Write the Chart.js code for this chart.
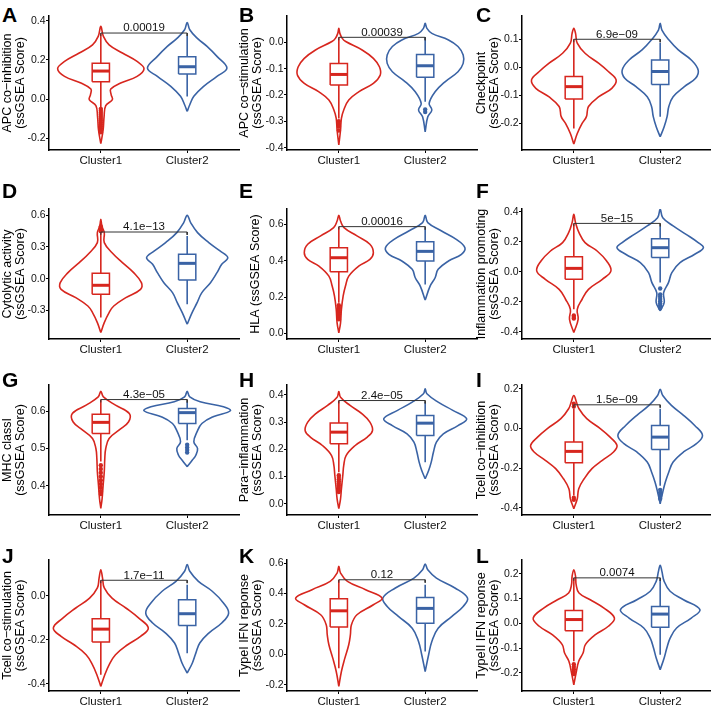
<!doctype html>
<html lang="en">
<head>
<meta charset="UTF-8">
<title>ssGSEA scores by cluster</title>
<script src="https://cdn.jsdelivr.net/npm/chart.js@4.4.0/dist/chart.umd.min.js"></script>
<style>
	body { margin: 0; width: 711px; height: 706px; overflow: hidden; background: #fff; position: relative; font-family: "Liberation Sans", Arial, sans-serif; }
	canvas { position: absolute; }
	.tag { position: absolute; font-weight: bold; font-size: 21px; line-height: 1; color: #000; }
</style>
</head>
<body>
<script>
// ---- data ----
const clusters = ['Cluster1', 'Cluster2'];
const letters = ['A', 'B', 'C', 'D', 'E', 'F', 'G', 'H', 'I', 'J', 'K', 'L'];
const yTitles = [
	['APC co\u2212inhibition', '(ssGSEA Score)'],
	['APC co\u2212stimulation', '(ssGSEA Score)'],
	['Checkpoint', '(ssGSEA Score)'],
	['Cytolytic activity', '(ssGSEA Score)'],
	['HLA (ssGSEA Score)'],
	['Inflammation promoting', '(ssGSEA Score)'],
	['MHC classI', '(ssGSEA Score)'],
	['Para\u2212inflammation', '(ssGSEA Score)'],
	['Tcell co\u2212inhibition', '(ssGSEA Score)'],
	['Tcell co\u2212stimulation', '(ssGSEA Score)'],
	['TypeI IFN reponse', '(ssGSEA Score)'],
	['TypeII IFN reponse', '(ssGSEA Score)'],
];
const pValues = ['0.00019', '0.00039', '6.9e\u221209', '4.1e\u221213', '0.00016', '5e\u221215',
	'4.3e\u221205', '2.4e\u221205', '1.5e\u221209', '1.7e\u221211', '0.12', '0.0074'];
const bracketY = [0.337, 0.019, 0.1, 0.442, 0.587, 0.324, 0.631, 0.379, 0.119, 0.07, 0.49, 0.183];

const yMin = [-0.26, -0.409, -0.295, -0.572, -0.031, -0.447, 0.322, -0.041, -0.437, -0.433, -0.241, -0.273];
const yMax = [0.424, 0.1, 0.183, 0.66, 0.684, 0.42, 0.670, 0.436, 0.219, 0.162, 0.62, 0.255];
const yTicks = [
	[-0.2, 0, 0.2, 0.4], [-0.4, -0.3, -0.2, -0.1, 0], [-0.2, -0.1, 0, 0.1], [-0.3, 0, 0.3, 0.6],
	[0, 0.2, 0.4, 0.6], [-0.4, -0.2, 0, 0.2, 0.4], [0.4, 0.5, 0.6], [0, 0.1, 0.2, 0.3, 0.4],
	[-0.4, -0.2, 0, 0.2], [-0.4, -0.2, 0], [-0.2, 0, 0.2, 0.4, 0.6], [-0.2, -0.1, 0, 0.1, 0.2],
];

// box stats: [lower whisker, q1, median, q3, upper whisker]
const box1 = [
	[-0.04, 0.089, 0.143, 0.183, 0.336], [-0.289, -0.162, -0.122, -0.08, 0.019], [-0.218, -0.113, -0.069, -0.033, 0.1],
	[-0.369, -0.148, -0.063, 0.051, 0.436], [0.168, 0.339, 0.416, 0.471, 0.587], [-0.249, -0.049, 0.024, 0.102, 0.324],
	[0.465, 0.54, 0.57, 0.592, 0.631], [0.116, 0.22, 0.263, 0.297, 0.379], [-0.338, -0.173, -0.116, -0.069, 0.1],
	[-0.359, -0.211, -0.152, -0.105, 0.07], [-0.091, 0.179, 0.286, 0.365, 0.49], [-0.153, -0.03, 0.015, 0.051, 0.183],
];
const box2 = [
	[0.013, 0.128, 0.165, 0.216, 0.323], [-0.226, -0.133, -0.089, -0.046, 0.019], [-0.176, -0.061, -0.015, 0.026, 0.088],
	[-0.243, -0.013, 0.145, 0.231, 0.404], [0.269, 0.398, 0.451, 0.504, 0.576], [-0.071, 0.096, 0.162, 0.222, 0.307],
	[0.522, 0.567, 0.596, 0.607, 0.625], [0.153, 0.251, 0.296, 0.324, 0.373], [-0.29, -0.106, -0.044, 0.015, 0.099],
	[-0.261, -0.135, -0.082, -0.018, 0.05], [0.019, 0.205, 0.302, 0.374, 0.457], [-0.127, -0.016, 0.037, 0.068, 0.175],
];
const outliers1 = [
	[-0.05, -0.06, -0.07, -0.08, -0.09, -0.1, -0.11, -0.12, -0.13, -0.14, -0.15, -0.16, -0.17], [-0.3, -0.31, -0.32, -0.335], [],
	[0.45, 0.46, 0.47, 0.48, 0.495], [0.155, 0.145, 0.135, 0.125, 0.115, 0.105, 0.095, 0.085, 0.078], [-0.29, -0.3, -0.31],
	[0.455, 0.445, 0.435, 0.425, 0.415, 0.405, 0.395, 0.385, 0.378], [0.105, 0.098, 0.09, 0.082, 0.074, 0.066, 0.058, 0.05, 0.043], [0.11, 0.125, -0.35, -0.36],
	[], [], [-0.165, -0.175, -0.185, -0.195, -0.205],
];
const outliers2 = [
	[], [-0.255, -0.265], [], [], [], [-0.11, -0.15, -0.165, -0.18, -0.195, -0.21, -0.225, -0.24],
	[0.51, 0.503, 0.496, 0.489], [], [-0.31, -0.325, -0.34, -0.355], [], [], [],
];

// violin outlines, top to bottom: [score, half width in category units]
const violin1 = [
	[[0.371, 0], [0.32, 0.03], [0.277, 0.096], [0.235, 0.25], [0.192, 0.42], [0.155, 0.5], [0.116, 0.42], [0.082, 0.23], [0.051, 0.115], [0.022, 0.12], [-0.003, 0.134], [-0.034, 0.057], [-0.088, 0.038], [-0.156, 0.027], [-0.228, 0]],
	[[0.053, 0], [0.034, 0.012], [0.015, 0.04], [0.003, 0.08], [-0.029, 0.27], [-0.061, 0.40], [-0.093, 0.47], [-0.124, 0.48], [-0.156, 0.40], [-0.188, 0.23], [-0.219, 0.115], [-0.257, 0.057], [-0.289, 0.03], [-0.333, 0.02], [-0.39, 0]],
	[[0.139, 0], [0.121, 0.02], [0.086, 0.04], [0.05, 0.13], [0.014, 0.29], [-0.015, 0.40], [-0.045, 0.49], [-0.075, 0.44], [-0.105, 0.29], [-0.14, 0.17], [-0.176, 0.146], [-0.2, 0.096], [-0.236, 0.04], [-0.274, 0]],
	[[0.562, 0], [0.499, 0.012], [0.436, 0.04], [0.341, 0.04], [0.246, 0.13], [0.152, 0.25], [0.057, 0.38], [-0.038, 0.47], [-0.101, 0.46], [-0.18, 0.29], [-0.259, 0.15], [-0.322, 0.096], [-0.417, 0.04], [-0.511, 0]],
	[[0.65, 0], [0.618, 0.02], [0.582, 0.06], [0.536, 0.21], [0.49, 0.36], [0.444, 0.40], [0.407, 0.36], [0.37, 0.23], [0.315, 0.115], [0.26, 0.077], [0.205, 0.05], [0.132, 0.03], [0.058, 0.02], [0.003, 0]],
	[[0.384, 0], [0.329, 0.02], [0.262, 0.06], [0.196, 0.13], [0.14, 0.27], [0.073, 0.38], [0.007, 0.43], [-0.049, 0.33], [-0.116, 0.17], [-0.182, 0.096], [-0.249, 0.04], [-0.316, 0.05], [-0.404, 0]],
	[[0.653, 0], [0.638, 0.03], [0.616, 0.17], [0.594, 0.33], [0.571, 0.32], [0.549, 0.21], [0.527, 0.096], [0.5, 0.057], [0.473, 0.046], [0.438, 0.04], [0.402, 0.027], [0.366, 0.015], [0.34, 0]],
	[[0.412, 0], [0.391, 0.02], [0.361, 0.13], [0.33, 0.27], [0.3, 0.36], [0.269, 0.39], [0.245, 0.33], [0.214, 0.19], [0.177, 0.084], [0.141, 0.057], [0.104, 0.046], [0.055, 0.03], [0.018, 0.02], [-0.018, 0]],
	[[0.166, 0], [0.133, 0.03], [0.099, 0.06], [0.049, 0.15], [-0.002, 0.31], [-0.044, 0.42], [-0.086, 0.5], [-0.119, 0.46], [-0.161, 0.33], [-0.203, 0.21], [-0.254, 0.12], [-0.304, 0.057], [-0.355, 0.04], [-0.405, 0]],
	[[0.118, 0], [0.08, 0.02], [0.035, 0.04], [-0.011, 0.13], [-0.056, 0.29], [-0.102, 0.44], [-0.147, 0.55], [-0.185, 0.46], [-0.223, 0.31], [-0.268, 0.17], [-0.314, 0.096], [-0.359, 0.046], [-0.412, 0]],
	[[0.578, 0], [0.534, 0.02], [0.479, 0.1], [0.425, 0.31], [0.37, 0.5], [0.326, 0.4], [0.26, 0.21], [0.194, 0.146], [0.129, 0.134], [0.063, 0.115], [-0.025, 0.07], [-0.113, 0.03], [-0.211, 0]],
	[[0.216, 0], [0.189, 0.02], [0.156, 0.027], [0.122, 0.06], [0.095, 0.19], [0.062, 0.345], [0.021, 0.47], [-0.012, 0.4], [-0.046, 0.25], [-0.086, 0.134], [-0.12, 0.107], [-0.153, 0.057], [-0.194, 0.03], [-0.248, 0]],
];
const violin2 = [
	[[0.391, 0], [0.354, 0.03], [0.311, 0.115], [0.269, 0.23], [0.218, 0.345], [0.158, 0.46], [0.116, 0.345], [0.065, 0.19], [0.014, 0.077], [-0.029, 0.03], [-0.063, 0]],
	[[0.072, 0], [0.053, 0.02], [0.034, 0.077], [0.009, 0.27], [-0.016, 0.38], [-0.048, 0.44], [-0.08, 0.44], [-0.112, 0.38], [-0.15, 0.23], [-0.188, 0.115], [-0.232, 0.046], [-0.257, 0.077], [-0.283, 0.03], [-0.34, 0]],
	[[0.157, 0], [0.133, 0.02], [0.098, 0.1], [0.062, 0.21], [0.026, 0.36], [-0.01, 0.44], [-0.039, 0.41], [-0.069, 0.28], [-0.105, 0.15], [-0.14, 0.1], [-0.176, 0.08], [-0.212, 0.046], [-0.248, 0]],
	[[0.6, 0], [0.531, 0.04], [0.436, 0.12], [0.341, 0.25], [0.262, 0.38], [0.199, 0.47], [0.136, 0.4], [0.057, 0.345], [-0.038, 0.27], [-0.133, 0.17], [-0.227, 0.115], [-0.322, 0.057], [-0.432, 0]],
	[[0.65, 0], [0.609, 0.03], [0.563, 0.19], [0.517, 0.36], [0.471, 0.46], [0.435, 0.42], [0.398, 0.27], [0.352, 0.15], [0.306, 0.115], [0.26, 0.057], [0.183, 0]],
	[[0.418, 0], [0.362, 0.03], [0.307, 0.15], [0.251, 0.3], [0.196, 0.44], [0.162, 0.5], [0.118, 0.4], [0.062, 0.23], [-0.004, 0.135], [-0.071, 0.096], [-0.138, 0.04], [-0.204, 0.046], [-0.26, 0]],
	[[0.653, 0], [0.638, 0.03], [0.625, 0.15], [0.612, 0.42], [0.601, 0.5], [0.585, 0.3], [0.567, 0.17], [0.545, 0.115], [0.518, 0.077], [0.5, 0.12], [0.482, 0.1], [0.469, 0.06], [0.451, 0]],
	[[0.422, 0], [0.404, 0.02], [0.373, 0.15], [0.343, 0.32], [0.312, 0.48], [0.287, 0.38], [0.257, 0.21], [0.226, 0.13], [0.19, 0.096], [0.153, 0.07], [0.122, 0.04], [0.092, 0]],
	[[0.197, 0], [0.166, 0.03], [0.116, 0.13], [0.066, 0.27], [0.015, 0.4], [-0.035, 0.49], [-0.077, 0.42], [-0.119, 0.27], [-0.17, 0.15], [-0.22, 0.1], [-0.271, 0.06], [-0.321, 0.03], [-0.38, 0]],
	[[0.141, 0], [0.111, 0.03], [0.065, 0.13], [0.02, 0.29], [-0.033, 0.42], [-0.079, 0.48], [-0.124, 0.4], [-0.17, 0.25], [-0.215, 0.146], [-0.261, 0.1], [-0.306, 0.06], [-0.352, 0]],
	[[0.593, 0], [0.556, 0.03], [0.501, 0.13], [0.436, 0.345], [0.37, 0.49], [0.315, 0.44], [0.249, 0.31], [0.172, 0.15], [0.085, 0.077], [-0.003, 0.04], [-0.113, 0]],
	[[0.234, 0], [0.209, 0.02], [0.169, 0.046], [0.129, 0.115], [0.095, 0.27], [0.055, 0.46], [0.021, 0.36], [-0.019, 0.19], [-0.06, 0.115], [-0.1, 0.077], [-0.14, 0.046], [-0.187, 0]],
];

// ---- layout / style ----
const RED = '#D7261E';
const BLUE = '#3A63A5';
const W = 245, H = 190;
const colLeft = [0, 237, 474];
const rowTop = [0, 176, 352, 528];
const plotLeft = [49, 50, 48];
const plotTop = [16, 33, 33, 32];
const plotBottom = [150, 163, 163, 163];
const plotW = 190;
const letterTop = [7, 183, 372, 548];
const BOX_HALF = 0.1;
const sans = '"Liberation Sans", Arial, sans-serif';

function fmt(v) {
	return v.toFixed(1);
}

function outline(profile, c) {
	const right = profile.slice().reverse().map(([v, w]) => ({ x: c + w, y: v }));
	const left = profile.map(([v, w]) => ({ x: c - w, y: v }));
	return right.concat(left.slice(1));
}

function line(data, color, width, tension) {
	return { data, showLine: true, borderColor: color, borderWidth: width, pointRadius: 0, pointHoverRadius: 0, tension: tension || 0, fill: false };
}

function groupSets(c, stats, outs, profile, color) {
	const [lo, q1, med, q3, hi] = stats;
	return [
		{ data: outs.map(v => ({ x: c, y: v })), showLine: false, pointRadius: 2.2, pointBorderWidth: 0, pointBackgroundColor: color },
		line([{ x: c - BOX_HALF, y: med }, { x: c + BOX_HALF, y: med }], color, 3),
		line([{ x: c - BOX_HALF, y: q1 }, { x: c + BOX_HALF, y: q1 }, { x: c + BOX_HALF, y: q3 }, { x: c - BOX_HALF, y: q3 }, { x: c - BOX_HALF, y: q1 }], color, 1.5),
		line([{ x: c, y: q3 }, { x: c, y: hi }], color, 1.6),
		line([{ x: c, y: q1 }, { x: c, y: lo }], color, 1.6),
		line(outline(profile, c), color, 1.6, 0.4),
	];
}

const pLabel = {
	id: 'pLabel',
	afterDatasetsDraw(chart, args, opts) {
		const { ctx, scales: { x, y } } = chart;
		ctx.save();
		ctx.font = '11.5px ' + sans;
		ctx.fillStyle = '#111';
		ctx.textAlign = 'center';
		ctx.textBaseline = 'bottom';
		ctx.fillText(pValues[opts.idx], x.getPixelForValue(1.5), y.getPixelForValue(bracketY[opts.idx]) + 1);
		ctx.restore();
	}
};

letters.forEach((letter, i) => {
	const row = Math.floor(i / 3), col = i % 3;

	const tag = document.createElement('div');
	tag.className = 'tag';
	tag.textContent = letter;
	tag.style.left = (colLeft[col] + 2) + 'px';
	tag.style.top = (letterTop[row] - 3) + 'px';
	document.body.appendChild(tag);

	const canvas = document.createElement('canvas');
	canvas.width = W;
	canvas.height = H;
	canvas.style.left = colLeft[col] + 'px';
	canvas.style.top = rowTop[row] + 'px';
	document.body.appendChild(canvas);

	const tickDrop = (yMax[i] - yMin[i]) * 0.022;
	const bracket = line([
		{ x: 1, y: bracketY[i] - tickDrop }, { x: 1, y: bracketY[i] },
		{ x: 2, y: bracketY[i] }, { x: 2, y: bracketY[i] - tickDrop }], '#333', 1);

	const datasets = [bracket]
		.concat(groupSets(1, box1[i], outliers1[i], violin1[i], RED))
		.concat(groupSets(2, box2[i], outliers2[i], violin2[i], BLUE));

	const oneLine = yTitles[i].length === 1;

	new Chart(canvas.getContext('2d'), {
		type: 'scatter',
		data: { datasets },
		plugins: [pLabel],
		options: {
			responsive: false,
			animation: false,
			events: [],
			devicePixelRatio: 1,
			layout: { padding: { left: 0, top: plotTop[row], right: W - plotLeft[col] - plotW, bottom: 0 } },
			plugins: { legend: { display: false }, tooltip: { enabled: false }, pLabel: { idx: i } },
			scales: {
				x: {
					type: 'linear', min: 0.4, max: 2.6,
					afterBuildTicks: s => { s.ticks = [{ value: 1 }, { value: 2 }]; },
					afterFit: s => { s.height = H - plotBottom[row]; },
					ticks: { callback: v => clusters[v - 1], font: { family: sans, size: 11.5 }, color: '#111', padding: 1, maxRotation: 0, autoSkip: false },
					grid: { drawOnChartArea: false, drawTicks: true, tickLength: 3, color: '#000' },
					border: { display: true, color: '#000', width: 1.5 },
				},
				y: {
					type: 'linear', min: yMin[i], max: yMax[i],
					afterBuildTicks: s => { s.ticks = yTicks[i].map(v => ({ value: v })); },
					afterFit: s => { s.width = plotLeft[col]; },
					ticks: { callback: v => fmt(v), font: { family: sans, size: 10.5 }, color: '#111', padding: 0.5, autoSkip: false },
					grid: { drawOnChartArea: false, drawTicks: true, tickLength: 3, color: '#000' },
					border: { display: true, color: '#000', width: 1.5 },
					title: {
						display: true, text: yTitles[i], color: '#000',
						font: { family: sans, size: 12.5, lineHeight: 1.08 },
						padding: { top: oneLine ? 12 : 0.5, bottom: 0 },
					},
				},
			},
		},
	});
});
</script>
</body>
</html>
